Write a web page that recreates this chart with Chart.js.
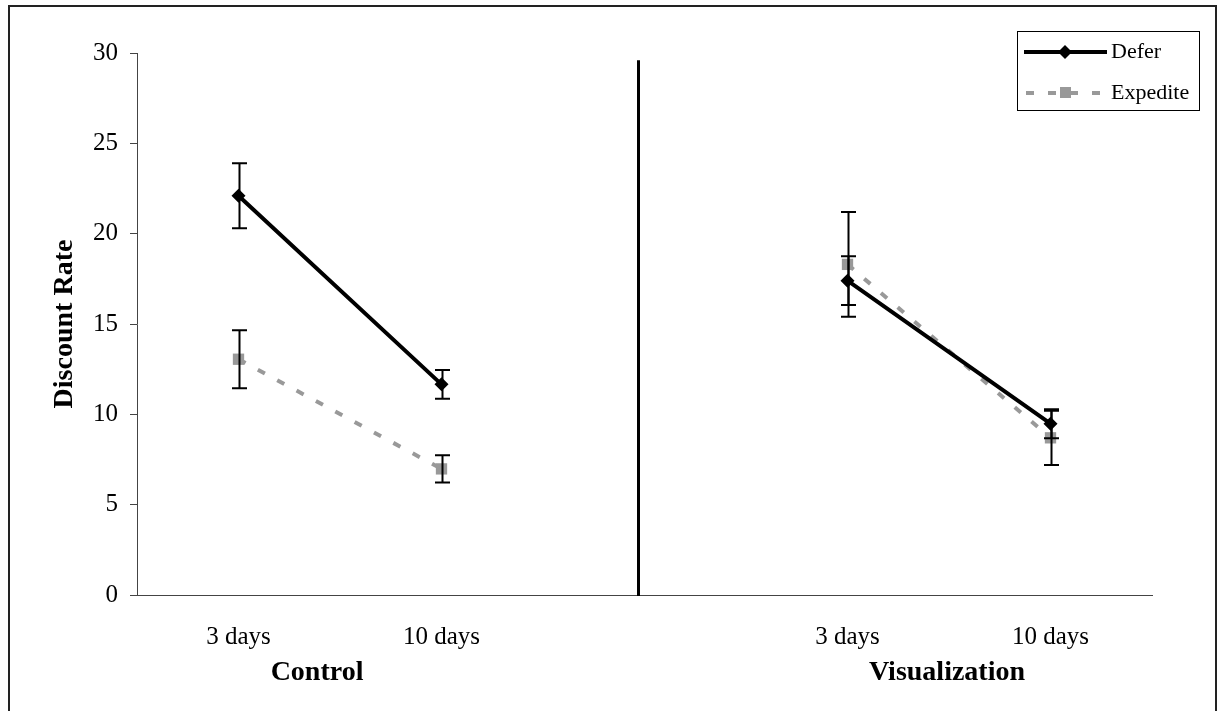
<!DOCTYPE html>
<html lang="en">
<head>
    <meta charset="utf-8">
    <title>Discount Rate</title>
    <script src="https://cdn.jsdelivr.net/npm/chart.js"></script>
    <style>
        html, body { margin: 0; padding: 0; background: #fff; }
        #wrap { width: 1219px; height: 711px; position: relative; }
    </style>
</head>
<body>
<div id="wrap">
    <canvas id="rateChart" width="1219" height="711"></canvas>
</div>

<script>
    // categories (the empty slot is the gap between the two panels)
    const labels = ['3 days', '10 days', '', '3 days', '10 days']
    const groups = ['Control', 'Visualization']

    // means
    const deferValues = [22.1, 11.66, null, 17.4, 9.48]
    const expediteValues = [13.05, 6.98, null, 18.3, 8.7]

    // half-length of the error bars
    const deferErrors = [1.8, 0.8, null, 1.35, 0.8]
    const expediteErrors = [1.6, 0.75, null, 2.9, 1.5]

    const yTicks = [0, 5, 10, 15, 20, 25, 30]

    const serif = 'Liberation Serif'
    const grey = 'rgb(153,153,153)'

    // outer frame
    const framePlugin = {
        id: 'frame',
        beforeDraw(chart) {
            const ctx = chart.ctx
            ctx.save()
            ctx.fillStyle = '#fff'
            ctx.fillRect(0, 0, chart.width, chart.height)
            ctx.strokeStyle = '#222'
            ctx.lineWidth = 2
            ctx.strokeRect(9, 6, 1207, 730)
            ctx.restore()
        }
    }

    // error bars, panel divider, group labels, legend
    const extrasPlugin = {
        id: 'extras',
        afterDatasetsDraw(chart) {
            const ctx = chart.ctx
            const x = chart.scales.x
            const y = chart.scales.y
            ctx.save()

            // error bars
            const errSets = [[deferValues, deferErrors], [expediteValues, expediteErrors]]
            ctx.strokeStyle = '#000'
            ctx.lineWidth = 2
            errSets.forEach(([vals, errs]) => {
                vals.forEach((v, i) => {
                    if (v === null) return
                    const px = Math.round(x.getPixelForValue(i)) + 0.5
                    const top = y.getPixelForValue(v + errs[i])
                    const bot = y.getPixelForValue(v - errs[i])
                    ctx.beginPath()
                    ctx.moveTo(px, top)
                    ctx.lineTo(px, bot)
                    ctx.moveTo(px - 7.5, top)
                    ctx.lineTo(px + 7.5, top)
                    ctx.moveTo(px - 7.5, bot)
                    ctx.lineTo(px + 7.5, bot)
                    ctx.stroke()
                })
            })

            // divider between the panels
            const dx = Math.round(x.getPixelForValue(1.967)) + 0.5
            ctx.lineWidth = 3
            ctx.beginPath()
            ctx.moveTo(dx, y.getPixelForValue(29.6))
            ctx.lineTo(dx, y.getPixelForValue(0) + 1)
            ctx.stroke()

            // group labels under the tick labels
            ctx.fillStyle = '#000'
            ctx.font = 'bold 28px "' + serif + '"'
            ctx.textAlign = 'center'
            ctx.textBaseline = 'middle'
            ctx.fillText(groups[0], x.getPixelForValue(0.387), 673)
            ctx.fillText(groups[1], x.getPixelForValue(3.49), 673)

            // legend
            ctx.fillStyle = '#fff'
            ctx.fillRect(1017, 31, 183, 80)
            ctx.strokeStyle = '#000'
            ctx.lineWidth = 1
            ctx.strokeRect(1017.5, 31.5, 182, 79)

            ctx.lineWidth = 4
            ctx.strokeStyle = '#000'
            ctx.beginPath()
            ctx.moveTo(1024, 52)
            ctx.lineTo(1107, 52)
            ctx.stroke()
            ctx.fillStyle = '#000'
            ctx.beginPath()
            ctx.moveTo(1065, 45)
            ctx.lineTo(1072, 52)
            ctx.lineTo(1065, 59)
            ctx.lineTo(1058, 52)
            ctx.closePath()
            ctx.fill()

            ctx.strokeStyle = grey
            ctx.setLineDash([8, 14])
            ctx.beginPath()
            ctx.moveTo(1026, 93)
            ctx.lineTo(1107, 93)
            ctx.stroke()
            ctx.setLineDash([])
            ctx.fillStyle = grey
            ctx.fillRect(1060, 87, 11, 11)

            ctx.fillStyle = '#000'
            ctx.font = '22px "' + serif + '"'
            ctx.textAlign = 'left'
            ctx.fillText('Defer', 1111, 52)
            ctx.fillText('Expedite', 1111, 93)

            ctx.restore()
        }
    }

    window.addEventListener('load', function () {
        const canvas = document.getElementById('rateChart')

        new Chart(canvas, {
            type: 'line',
            data: {
                labels: labels,
                datasets: [{
                    label: 'Defer',
                    data: deferValues,
                    borderColor: '#000',
                    backgroundColor: '#000',
                    borderWidth: 4,
                    pointStyle: 'rectRot',
                    pointRadius: 7,
                    pointBorderWidth: 0,
                    tension: 0
                }, {
                    label: 'Expedite',
                    data: expediteValues,
                    borderColor: grey,
                    backgroundColor: grey,
                    borderWidth: 4,
                    borderDash: [8, 14],
                    pointStyle: 'rect',
                    pointRadius: 8,
                    pointBorderWidth: 0,
                    tension: 0
                }]
            },
            options: {
                responsive: false,
                animation: false,
                events: [],
                layout: {
                    padding: { top: 53, right: 67, left: 0, bottom: 0 }
                },
                plugins: {
                    legend: { display: false },
                    tooltip: { enabled: false }
                },
                scales: {
                    x: {
                        type: 'category',
                        offset: true,
                        grid: { display: false, drawTicks: false },
                        border: { display: true, color: '#444', width: 1 },
                        ticks: {
                            color: '#000',
                            padding: 27,
                            maxRotation: 0,
                            autoSkip: false,
                            font: { family: serif, size: 25 }
                        },
                        afterFit: s => { s.height = 116 }
                    },
                    y: {
                        min: 0,
                        max: 30,
                        afterBuildTicks: s => { s.ticks = yTicks.map(v => ({ value: v })) },
                        grid: {
                            drawOnChartArea: false,
                            drawTicks: true,
                            tickLength: 7,
                            color: '#444'
                        },
                        border: { display: true, color: '#444', width: 1 },
                        ticks: {
                            color: '#000',
                            padding: 12,
                            font: { family: serif, size: 25 }
                        },
                        title: {
                            display: true,
                            text: 'Discount Rate',
                            color: '#000',
                            padding: { top: 48, bottom: 0 },
                            font: { family: serif, size: 28, weight: 'bold' }
                        },
                        afterFit: s => { s.width = 137 }
                    }
                }
            },
            plugins: [framePlugin, extrasPlugin]
        })
    })
</script>
</body>
</html>
